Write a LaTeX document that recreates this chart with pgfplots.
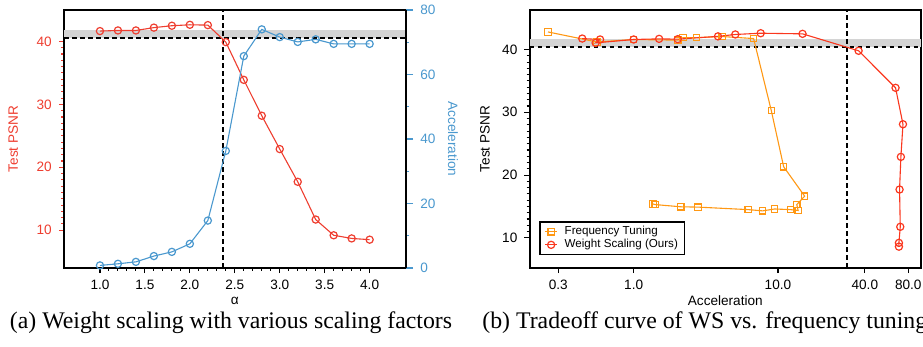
\documentclass[border=0pt]{standalone}
\usepackage{fontspec}
\setmainfont{Liberation Sans}
\newfontfamily\capfont{Liberation Serif}
\usepackage{pgfplots}
\pgfplotsset{compat=1.18}
\definecolor{psnrred}{RGB}{238,62,48}
\definecolor{accblue}{RGB}{74,152,206}
\definecolor{ftorange}{RGB}{255,152,20}
\definecolor{wsred}{RGB}{250,55,30}
\definecolor{bandgray}{RGB}{212,212,212}
\pgfplotsset{
  every axis/.append style={
    font=\fontsize{6.8}{8}\selectfont,
    /pgf/number format/assume math mode=true,
    scale only axis,
    axis line style={line width=1pt},
    tick style={black, line width=0.55pt},
    tick align=outside,
    major tick length=2.6pt,
    minor tick length=1.5pt,
  },
}
\tikzset{dline/.style={black, line width=0.9pt, dash pattern=on 2.4pt off 1.6pt}}
\begin{document}
\begin{tikzpicture}[x=1pt,y=1pt]
\useasboundingbox (0,0) rectangle (461.5,173.5);
% ---------------- left panel, PSNR axis
\begin{axis}[at={(32pt,39.5pt)}, anchor=south west, width=170.8pt, height=129pt,
  xmin=0.6, xmax=4.4, ymin=4, ymax=45,
  tick pos=left,
  xtick={1,1.5,2,2.5,3,3.5,4}, minor x tick num=4,
  ytick={10,20,30,40}, minor y tick num=9,
  xticklabel style={/pgf/number format/.cd,fixed,fixed zerofill,precision=1},
  y tick style={psnrred}, yticklabel style={text=psnrred},
  xlabel={α}, ylabel={Test PSNR},
  ylabel style={text=psnrred, at={(axis description cs:-0.149,0.5)}, anchor=center},
  xlabel style={at={(axis description cs:0.5,-0.128)}, anchor=center},
]
\fill[bandgray] (axis cs:0.6,40.5) rectangle (axis cs:4.4,41.75);
\draw[dline] (axis cs:0.6,40.5) -- (axis cs:4.4,40.5);
\draw[dline] (axis cs:2.367,4) -- (axis cs:2.367,45);
\addplot[psnrred, line width=0.55pt, mark=o, mark size=1.8pt, mark options={fill=white, line width=0.6pt}]
  coordinates {(1.0,41.65) (1.2,41.75) (1.4,41.75) (1.6,42.2) (1.8,42.5) (2.0,42.65) (2.2,42.6)
  (2.4,39.9) (2.6,33.9) (2.8,28.2) (3.0,22.9) (3.2,17.7) (3.4,11.7) (3.6,9.2) (3.8,8.7) (4.0,8.5)};
\end{axis}
% ---------------- left panel, acceleration axis
\begin{axis}[at={(32pt,39.5pt)}, anchor=south west, width=170.8pt, height=129pt,
  xmin=0.6, xmax=4.4, ymin=0, ymax=80,
  axis x line=none, axis y line*=right,
  ytick={0,20,40,60,80}, minor y tick num=1,
  major tick length=3.8pt, minor tick length=1.8pt,
  y tick style={accblue}, yticklabel style={text=accblue},
  ylabel={Acceleration},
  ylabel style={text=accblue, rotate=180, at={(axis description cs:1.139,0.5)}, anchor=center},
]
\addplot[accblue, line width=0.55pt, mark=o, mark size=1.8pt, mark options={fill=white, line width=0.6pt}]
  coordinates {(1.0,0.8) (1.2,1.3) (1.4,1.9) (1.6,3.7) (1.8,5.0) (2.0,7.5) (2.2,14.7)
  (2.4,36.3) (2.6,65.7) (2.8,74.0) (3.0,71.6) (3.2,70.1) (3.4,70.9) (3.6,69.5) (3.8,69.5) (4.0,69.5)};
\end{axis}
% ---------------- right panel
\begin{axis}[at={(264.8pt,39.5pt)}, anchor=south west, width=195.7pt, height=129pt,
  xmode=log, xmin=0.19, xmax=98, ymin=5.2, ymax=46.3,
  tick pos=left,
  xtick={0.3,1,10,40,80}, xticklabels={0.3,1.0,10.0,40.0,80.0}, xminorticks=false,
  ytick={10,20,30,40}, minor y tick num=9,
  xlabel={Acceleration}, ylabel={Test PSNR},
  ylabel style={at={(axis description cs:-0.114,0.5)}, anchor=center},
  xlabel style={at={(axis description cs:0.5,-0.128)}, anchor=center},
  legend style={at={(axis description cs:0.025,0.049)}, anchor=south west,
    draw=black, line width=0.8pt, font=\fontsize{5.8}{6.6}\selectfont,
    inner xsep=2.2pt, inner ysep=1pt, row sep=-1.2pt, fill=white,
    nodes={inner sep=1pt}},
  legend cell align=left,
  legend image code/.code={\draw[mark repeat=2,mark phase=2,#1] plot coordinates {(0pt,0pt) (3pt,0pt) (6pt,0pt)}; \path (8.5pt,0pt);},
]
\fill[bandgray] (axis cs:0.19,40.45) rectangle (axis cs:98,41.65);
\draw[dline] (axis cs:0.19,40.45) -- (axis cs:98,40.45);
\draw[dline] (axis cs:30,5.2) -- (axis cs:30,46.3);
\addplot[ftorange, line width=0.55pt, mark=square, mark size=1.6pt, mark options={fill=white, line width=0.6pt}]
  coordinates {(0.255,42.8) (0.557,41.2) (1.0,41.6) (2.02,41.5) (2.20,41.9) (2.72,41.9) (4.11,42.07) (6.78,41.75)
  (8.99,30.27) (10.95,21.33) (15.3,16.65) (13.5,15.3) (13.8,14.36) (12.2,14.5) (9.48,14.6) (7.83,14.3)
  (6.22,14.5) (2.79,14.9) (2.12,14.95) (1.41,15.3) (1.36,15.4)};
\addlegendentry{Frequency Tuning}
\addplot[wsred, line width=0.55pt, mark=o, mark size=1.8pt, mark options={fill=white, line width=0.6pt}]
  coordinates {(0.44,41.75) (0.585,41.6) (0.545,41.06) (1.0,41.6) (1.50,41.7) (2.02,41.65) (3.84,42.1)
  (5.06,42.4) (7.59,42.6) (14.8,42.5) (36.2,39.8) (65.3,33.9) (73.5,28.1) (71.1,22.9) (69.6,17.7)
  (70.4,11.76) (68.9,9.2) (68.9,8.6)};
\addlegendentry{Weight Scaling (Ours)}
\end{axis}
% ---------------- captions
\node[font=\capfont\fontsize{11.9}{14}\selectfont, anchor=center, inner sep=0pt] at (115.5,12) {(a) Weight scaling with various scaling factors};
\node[font=\capfont\fontsize{11.9}{14}\selectfont, anchor=west, inner sep=0pt] at (241,12) {(b) Tradeoff curve of WS vs. frequency tuning};
\end{tikzpicture}
\end{document}
